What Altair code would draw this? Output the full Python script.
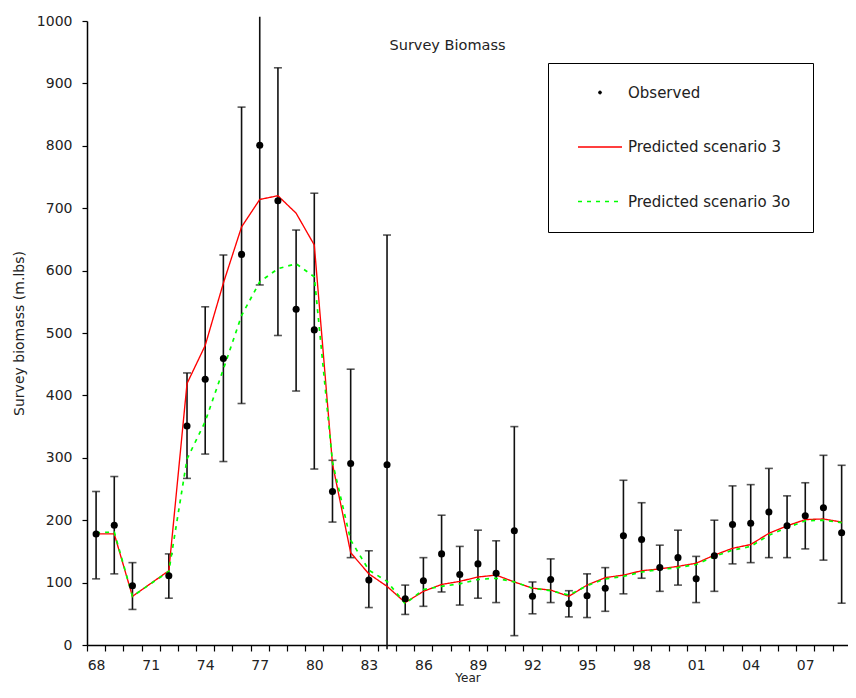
import altair as alt
import pandas as pd

# ---------------- data ----------------
years = [1968, 1969, 1970, 1972, 1973, 1974, 1975, 1976, 1977, 1978, 1979, 1980,
         1981, 1982, 1983, 1984, 1985, 1986, 1987, 1988, 1989, 1990, 1991, 1992,
         1993, 1994, 1995, 1996, 1997, 1998, 1999, 2000, 2001, 2002, 2003, 2004,
         2005, 2006, 2007, 2008, 2009]
observed = [178, 192, 95, 111, 351, 426, 459, 626, 801, 712, 538, 505,
            246, 291, 104, 289, 74, 103, 146, 113, 130, 115, 183, 78,
            105, 66, 79, 91, 175, 169, 124, 140, 106, 143, 193, 195,
            213, 191, 207, 220, 180]
obs_upper = [246, 270, 132, 146, 436, 542, 625, 862, 1007, 925, 665, 724,
             296, 442, 151, 657, 96, 140, 208, 158, 184, 167, 350, 101,
             138, 87, 114, 124, 264, 228, 160, 184, 142, 200, 255, 257,
             283, 239, 260, 304, 288]
obs_lower = [106, 114, 57, 75, 267, 306, 294, 387, 577, 496, 407, 282,
             197, 140, 60, -7, 49, 62, 85, 64, 75, 68, 15, 50,
             68, 45, 44, 54, 82, 107, 86, 96, 68, 86, 130, 132,
             140, 140, 154, 136, 67]
pred_s3 = [178, 178, 78, 119, 419, 480, 580, 670, 714, 720, 692, 641,
           290, 148, 114, 94, 68, 86, 97, 102, 109, 112, 101, 91,
           88, 78, 96, 108, 112, 119, 122, 126, 131, 144, 155, 161,
           179, 191, 201, 202, 197]
pred_s3o = [180, 181, 78, 118, 298, 358, 442, 528, 582, 603, 611, 590,
            293, 168, 120, 102, 66, 89, 94, 98, 105, 107, 101, 91,
            87, 80, 95, 106, 110, 117, 121, 124, 129, 142, 152, 158,
            176, 188, 199, 200, 196]

series_names = ["Observed", "Predicted scenario 3", "Predicted scenario 3o"]
series_colors = ["#000000", "#ff0000", "#00ff00"]

x_label_years = [1968, 1971, 1974, 1977, 1980, 1983, 1986, 1989, 1992, 1995,
                 1998, 2001, 2004, 2007]
x_tick_bounds = [1967.5 + i for i in range(42)]
y_ticks = [0, 100, 200, 300, 400, 500, 600, 700, 800, 900, 1000]

FONT = "DejaVu Sans"
TXT = "#222222"

# ---------------- frames ----------------
obs_df = pd.DataFrame({"year": years, "obs": observed, "lo": obs_lower, "hi": obs_upper})
pred_df = pd.concat([
    pd.DataFrame({"year": years, "value": pred_s3, "series": series_names[1]}),
    pd.DataFrame({"year": years, "value": pred_s3o, "series": series_names[2]}),
], ignore_index=True)

x_scale = alt.Scale(domain=[1967.5, 2009.35], nice=False, zero=False)
y_scale = alt.Scale(domain=[0, 1000], nice=False, zero=False)

x_tick_axis = alt.Axis(
    orient="bottom", values=x_tick_bounds, labels=False, tickSize=6, tickColor="black",
    tickWidth=1.2, domainColor="black", domainWidth=1.5, grid=False, title=None,
)
x_label_axis = alt.Axis(
    orient="bottom", values=x_label_years, format="d", labelExpr="substring(datum.label, 2, 4)",
    ticks=False, tickSize=0, domain=False, grid=False,
    labelFont=FONT, labelFontSize=14, labelColor=TXT, labelPadding=13,
    labelOverlap=False, labelFlush=False, labelBound=False,
    title="Year", titleFont=FONT, titleFontSize=12, titleFontWeight="normal",
    titleColor=TXT, titlePadding=0,
)
y_axis = alt.Axis(
    values=y_ticks, format="d", tickSize=5, tickColor="black", tickWidth=1.2,
    domainColor="black", domainWidth=1.5,
    labelFont=FONT, labelFontSize=14, labelColor=TXT, labelPadding=10, grid=False,
    title="Survey biomass (m.lbs)", titleFont=FONT, titleFontSize=14,
    titleFontWeight="normal", titleColor=TXT, titlePadding=10,
)

DOT = "M-0.3,0A0.3,0.3,0,1,1,0.3,0A0.3,0.3,0,1,1,-0.3,0Z"
SEG = "M-4.4,0L4.4,0"
legend = alt.Legend(
    orient="none", legendX=461, legendY=42, title=None,
    padding=22, rowPadding=38.5, symbolSize=100, symbolStrokeWidth=2,
    symbolOffset=22.5, labelOffset=20.5, labelLimit=400,
    symbolType={"expr": f"datum.value === 'Observed' ? '{DOT}' : '{SEG}'"},
    symbolDash={"expr": "datum.value === 'Predicted scenario 3o' ? [5, 6] : [1, 0]"},
    symbolFillColor={"expr": "datum.value === 'Observed' ? '#000000' : 'transparent'"},
    symbolOpacity=1,
    labelFont=FONT, labelFontSize=15, labelColor=TXT,
    strokeColor="black", fillColor="white",
)

whiskers = alt.Chart(obs_df).mark_rule(color="#111111", strokeWidth=1.6).encode(
    x=alt.X("year:Q", scale=x_scale, axis=x_tick_axis),
    y=alt.Y("lo:Q", scale=y_scale, axis=y_axis),
    y2="hi:Q",
)
caps_hi = alt.Chart(obs_df).transform_filter("datum.hi <= 1000").mark_tick(
    color="#111111", orient="horizontal", size=8, thickness=1.6
).encode(x=alt.X("year:Q", scale=x_scale, axis=None), y=alt.Y("hi:Q", scale=y_scale))
caps_lo = alt.Chart(obs_df).transform_filter("datum.lo >= 0").mark_tick(
    color="#111111", orient="horizontal", size=8, thickness=1.6
).encode(x=alt.X("year:Q", scale=x_scale, axis=None), y=alt.Y("lo:Q", scale=y_scale))

lines = alt.Chart(pred_df).mark_line().encode(
    x=alt.X("year:Q", scale=x_scale, axis=None),
    y=alt.Y("value:Q", scale=y_scale),
    color=alt.Color("series:N", scale=alt.Scale(domain=series_names, range=series_colors), legend=legend),
    strokeDash=alt.StrokeDash("series:N", scale=alt.Scale(domain=series_names, range=[[1, 0], [1, 0], [4, 5]]), legend=None),
    strokeWidth=alt.StrokeWidth("series:N", scale=alt.Scale(domain=series_names, range=[1, 1.7, 2.6]), legend=None),
    order=alt.Order("year:Q"),
)

points = alt.Chart(obs_df).mark_circle(color="#000000", size=50, opacity=1).encode(
    x=alt.X("year:Q", scale=x_scale, axis=x_label_axis),
    y=alt.Y("obs:Q", scale=y_scale),
)

chart = alt.layer(whiskers, caps_hi, caps_lo, lines, points).resolve_axis(
    x="independent"
).properties(
    width=761, height=624,
    autosize=alt.AutoSizeParams(type="none"),
    padding={"left": 79, "top": 13, "right": 0, "bottom": 39},
    title=alt.TitleParams("Survey Biomass", anchor="middle", frame="group", baseline="alphabetic",
                          offset=0, dx=-20, dy=50, font=FONT, fontSize=14.5,
                          fontWeight="normal", color=TXT),
    background="white",
).configure_view(stroke=None)

chart.save("out.html", embed_options={"renderer": "svg", "actions": False})
